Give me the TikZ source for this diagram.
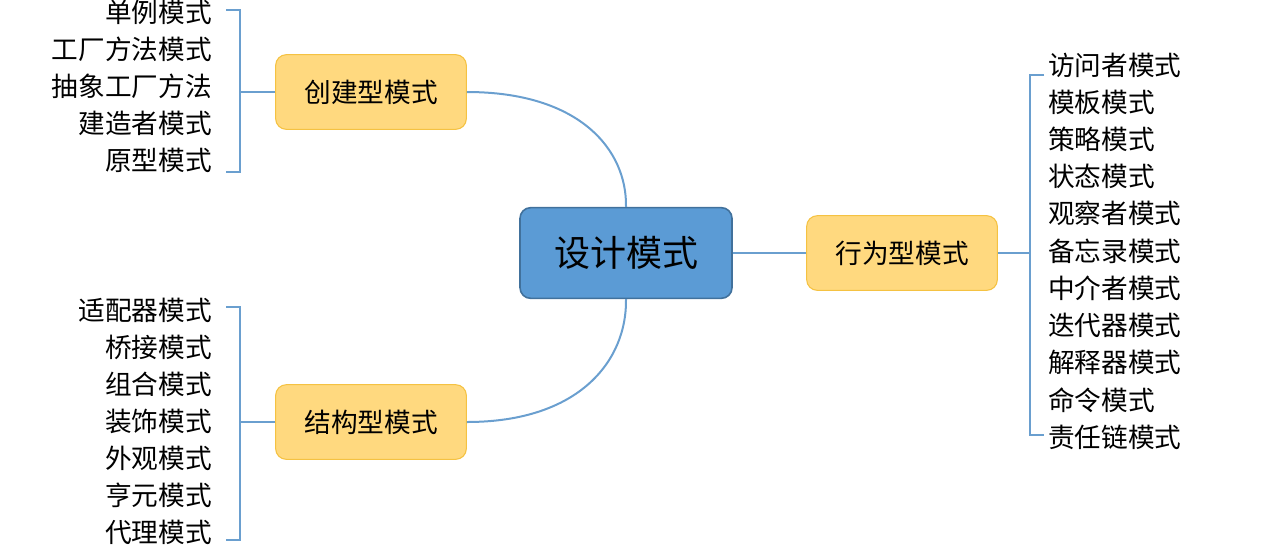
\documentclass[tikz,border=0pt]{standalone}
\usepackage{fontspec}
\setmainfont{Noto Sans CJK SC}
\definecolor{ctr}{HTML}{5B9BD5}
\definecolor{ctrb}{HTML}{41719C}
\definecolor{sub}{HTML}{FFD97F}
\definecolor{subb}{HTML}{F5C242}
\definecolor{ln}{HTML}{6A9FCF}
\begin{document}
\begin{tikzpicture}[x=0.75pt,y=-0.75pt,
  center/.style={draw=ctrb,line width=1.2pt,fill=ctr,rounded corners=8pt,minimum width=159pt,minimum height=68pt,font=\fontsize{27}{30}\selectfont},
  subbox/.style={draw=subb,line width=0.8pt,fill=sub,rounded corners=8pt,minimum width=143pt,minimum height=56pt,font=\fontsize{20}{24}\selectfont},
  leaf/.style={font=\fontsize{20}{24}\selectfont,inner sep=0pt},
  conn/.style={draw=ln,line width=1.5pt}]
\useasboundingbox (0,0) rectangle (1280,544);
\node[center] (c) at (626,253) {设计模式};
\node[subbox] (a) at (371,92) {创建型模式};
\node[subbox] (b) at (371,422) {结构型模式};
\node[subbox] (r) at (902,253) {行为型模式};
\draw[conn] (a.east) .. controls (580,92) and (627,150) .. (c.north);
\draw[conn] (b.east) .. controls (580,422) and (627,360) .. (c.south);
\draw[conn] (c.east) -- (r.west);
% left top brace
\coordinate (a1) at (240,92);
\draw[conn] (a.west) -- (a1);
\draw[conn] (226,10) -- (240,10) -- (240,172) -- (226,172);
\foreach \t [count=\i] in {单例模式,工厂方法模式,抽象工厂方法,建造者模式,原型模式}
  \node[leaf,anchor=east] (a\i t) at (212,{12+37*(\i-1)}) {\t};
% left bottom brace
\coordinate (b1) at (240,422);
\draw[conn] (b.west) -- (b1);
\draw[conn] (226,307) -- (240,307) -- (240,540) -- (226,540);
\foreach \t [count=\i] in {适配器模式,桥接模式,组合模式,装饰模式,外观模式,亨元模式,代理模式}
  \node[leaf,anchor=east] (b\i t) at (212,{310+37*(\i-1)}) {\t};
% right brace
\coordinate (r1) at (1030,253);
\draw[conn] (r.east) -- (r1);
\draw[conn] (1044,75) -- (1030,75) -- (1030,435) -- (1044,435);
\foreach \t [count=\i] in {访问者模式,模板模式,策略模式,状态模式,观察者模式,备忘录模式,中介者模式,迭代器模式,解释器模式,命令模式,责任链模式}
  \node[leaf,anchor=west] (r\i t) at (1048,{65+37.2*(\i-1)}) {\t};
\end{tikzpicture}
\end{document}
